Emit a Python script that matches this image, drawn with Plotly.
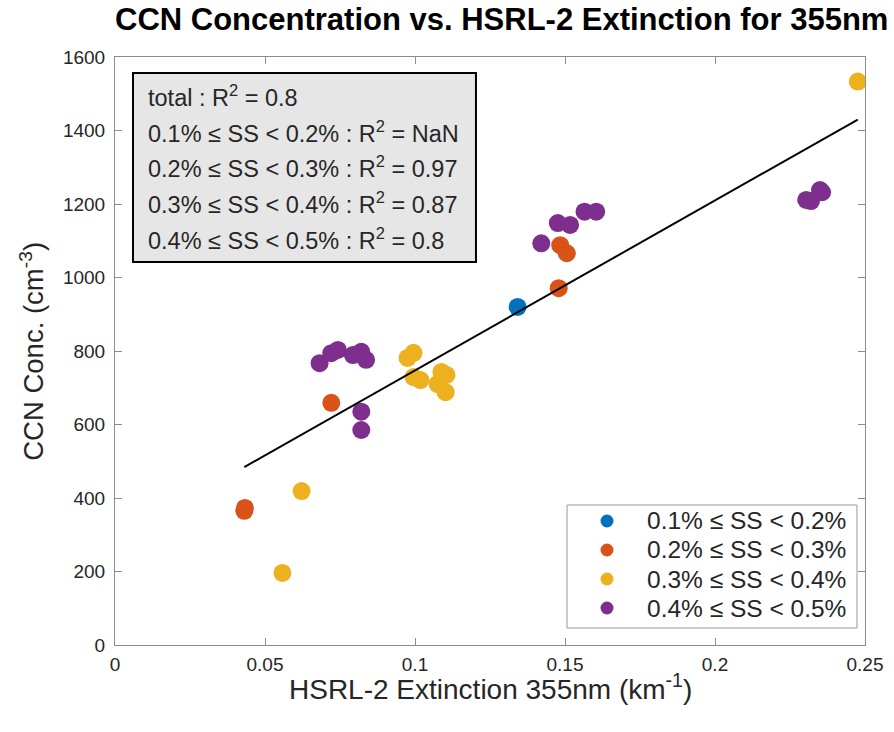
import numpy as np
import plotly.graph_objects as go

# --- data: HSRL-2 extinction (km^-1) and CCN concentration (cm^-3) per supersaturation bin ---
ss_labels = ["0.1% ≤ SS < 0.2%", "0.2% ≤ SS < 0.3%", "0.3% ≤ SS < 0.4%", "0.4% ≤ SS < 0.5%"]
ss_colors = ["#0072BD", "#D95319", "#EDB120", "#7E2F8E"]

ext_ss1 = [0.1342]
ccn_ss1 = [920]

ext_ss2 = [0.0431, 0.0433, 0.0721, 0.1479, 0.1484, 0.1506]
ccn_ss2 = [365, 373, 659, 971, 1088, 1066]

ext_ss3 = [0.0558, 0.0622, 0.0975, 0.0995, 0.0995, 0.1018, 0.1075, 0.1088, 0.1105, 0.1102, 0.2476]
ccn_ss3 = [196, 419, 781, 795, 729, 721, 710, 743, 735, 688, 1533]

ext_ss4 = [0.0682, 0.0721, 0.0743, 0.0793, 0.0821, 0.0837, 0.0821, 0.0821,
           0.1421, 0.1476, 0.1517, 0.1565, 0.1604, 0.2304, 0.2320, 0.2350, 0.2357]
ccn_ss4 = [767, 794, 803, 789, 798, 776, 635, 585,
           1093, 1148, 1143, 1179, 1179, 1211, 1208, 1238, 1232]

# linear fit over all points (slope in cm^-3 per km^-1, intercept in cm^-3)
fit_slope = 4623.0
fit_intercept = 285.0

r2_labels = ["total", ss_labels[0], ss_labels[1], ss_labels[2], ss_labels[3]]
r2_values = ["0.8", "NaN", "0.97", "0.87", "0.8"]

x_ticks = [0, 0.05, 0.1, 0.15, 0.2, 0.25]
x_ticktext = ["0", "0.05", "0.1", "0.15", "0.2", "0.25"]
y_ticks = [0, 200, 400, 600, 800, 1000, 1200, 1400, 1600]

FONT = "Liberation Sans, Arial, sans-serif"
TEXT = "#262626"
AXIS = "#8c8c8c"

groups = [(ext_ss1, ccn_ss1), (ext_ss2, ccn_ss2), (ext_ss3, ccn_ss3), (ext_ss4, ccn_ss4)]

fig = go.Figure()

for (xs, ys), name, col in zip(groups, ss_labels, ss_colors):
    fig.add_trace(go.Scatter(
        x=xs, y=ys, mode="markers", name=name, showlegend=False,
        marker=dict(size=18, color=col, line=dict(width=0)),
    ))

all_x = np.concatenate([np.asarray(g[0], dtype=float) for g in groups])
fit_x = np.array([all_x.min(), all_x.max()])
fit_y = fit_slope * fit_x + fit_intercept
fig.add_trace(go.Scatter(
    x=fit_x, y=fit_y, mode="lines", showlegend=False,
    line=dict(color="black", width=2),
))

axis_common = dict(
    showline=True, linecolor=AXIS, linewidth=1, mirror="ticks",
    ticks="inside", ticklen=7, tickcolor=AXIS, tickwidth=1,
    showgrid=False, zeroline=False,
    tickfont=dict(family=FONT, size=19, color=TEXT),
)

fig.update_xaxes(range=[0, 0.25], tickvals=x_ticks, ticktext=x_ticktext,
                 ticklabelstandoff=2, **axis_common)
fig.update_yaxes(range=[0, 1600], tickvals=y_ticks, ticklabelstandoff=5, **axis_common)

# R^2 summary box
fig.add_shape(type="rect", xref="paper", yref="paper",
              x0=0.024, x1=0.4813, y0=0.6514, y1=0.9728,
              fillcolor="#e6e6e6", line=dict(color="black", width=2), layer="above")

line_y = [0.9330, 0.8730, 0.8135, 0.7525, 0.6910]
for lab, val, yy in zip(r2_labels, r2_values, line_y):
    fig.add_annotation(
        xref="paper", yref="paper", x=0.0413, y=yy, xanchor="left", yanchor="middle",
        text=f"{lab} : R<sup>2</sup> = {val}", showarrow=False,
        font=dict(family=FONT, size=23.5, color=TEXT),
    )

# legend panel (bottom right): frame, coloured dots, labels
fig.add_shape(type="rect", xref="paper", yref="paper",
              x0=0.6027, x1=0.9893, y0=0.0289, y1=0.2381,
              fillcolor="white", line=dict(color="#999999", width=1), layer="above")
legend_y = [0.2109, 0.1616, 0.1122, 0.0629]
for name, col, yy in zip(ss_labels, ss_colors, legend_y):
    fig.add_shape(type="circle", xref="paper", yref="paper",
                  xsizemode="pixel", ysizemode="pixel",
                  xanchor=0.656, yanchor=yy, x0=-6.5, x1=6.5, y0=-6.5, y1=6.5,
                  fillcolor=col, line=dict(width=0), layer="above")
    fig.add_annotation(xref="paper", yref="paper", x=0.7067, y=yy,
                       xanchor="left", yanchor="middle", text=name, showarrow=False,
                       font=dict(family=FONT, size=24.5, color=TEXT))

# titles
fig.add_annotation(xref="paper", yref="paper", x=0.5147, y=1.063, xanchor="center", yanchor="middle",
                   text="<b>CCN Concentration vs. HSRL-2 Extinction for 355nm</b>", showarrow=False,
                   font=dict(family=FONT, size=31, color="black"))
fig.add_annotation(xref="paper", yref="paper", x=0.5, y=-0.071, xanchor="center", yanchor="middle",
                   text="HSRL-2 Extinction 355nm (km<sup>-1</sup>)", showarrow=False,
                   font=dict(family=FONT, size=28, color=TEXT))
fig.add_annotation(xref="paper", yref="paper", x=-0.111, y=0.5, xanchor="center", yanchor="middle",
                   text="CCN Conc. (cm<sup>-3</sup>)", textangle=-90, showarrow=False,
                   font=dict(family=FONT, size=27.5, color=TEXT))

fig.update_layout(
    width=894, height=732,
    margin=dict(l=115, r=29, t=57, b=87),
    paper_bgcolor="white", plot_bgcolor="white",
    showlegend=False,
)

fig.write_html("out.html")
